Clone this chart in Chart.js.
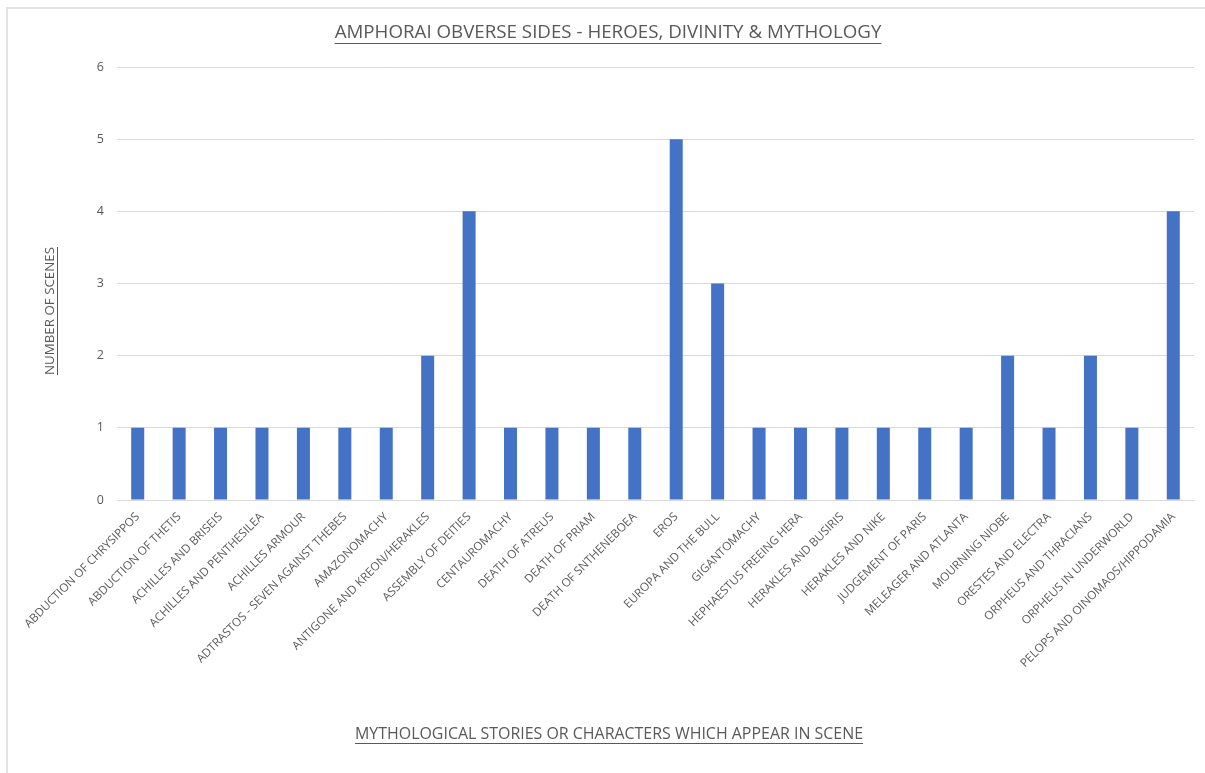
<!DOCTYPE html>
<html>
<head>
<meta charset="utf-8">
<script src="https://cdn.jsdelivr.net/npm/chart.js@4/dist/chart.umd.min.js"></script>
<style>
  html, body { margin: 0; padding: 0; background: #fff; }
  #wrap { position: absolute; left: 0; top: 0; width: 1205px; height: 773px; }
</style>
</head>
<body>
<div id="wrap"><canvas id="c" width="1205" height="773"></canvas></div>
<script>
const chartTitle = "AMPHORAI OBVERSE SIDES - HEROES, DIVINITY & MYTHOLOGY";
const xAxisTitle = "MYTHOLOGICAL STORIES OR CHARACTERS WHICH APPEAR IN SCENE";
const yAxisTitle = "NUMBER OF SCENES";

const categories = [
  "ABDUCTION OF CHRYSIPPOS",
  "ABDUCTION OF THETIS",
  "ACHILLES AND BRISEIS",
  "ACHILLES AND PENTHESILEA",
  "ACHILLES ARMOUR",
  "ADTRASTOS - SEVEN AGAINST THEBES",
  "AMAZONOMACHY",
  "ANTIGONE AND KREON/HERAKLES",
  "ASSEMBLY OF DEITIES",
  "CENTAUROMACHY",
  "DEATH OF ATREUS",
  "DEATH OF PRIAM",
  "DEATH OF SNTHENEBOEA",
  "EROS",
  "EUROPA AND THE BULL",
  "GIGANTOMACHY",
  "HEPHAESTUS FREEING HERA",
  "HERAKLES AND BUSIRIS",
  "HERAKLES AND NIKE",
  "JUDGEMENT OF PARIS",
  "MELEAGER AND ATLANTA",
  "MOURNING NIOBE",
  "ORESTES AND ELECTRA",
  "ORPHEUS AND THRACIANS",
  "ORPHEUS IN UNDERWORLD",
  "PELOPS AND OINOMAOS/HIPPODAMIA"
];
const sceneCounts = [1, 1, 1, 1, 1, 1, 1, 2, 4, 1, 1, 1, 1, 5, 3, 1, 1, 1, 1, 1, 1, 2, 1, 2, 1, 4];
const yTickValues = [0, 1, 2, 3, 4, 5, 6];

const FONT = "'Open Sans', 'Liberation Sans', sans-serif";
const TEXT_COLOR = "#595959";

function drawFitted(ctx, text, x, y, targetWidth, rotate) {
  ctx.save();
  ctx.font = "16px " + FONT;
  const w = ctx.measureText(text).width;
  const size = 16 * targetWidth / w;
  ctx.font = size.toFixed(2) + "px " + FONT;
  ctx.fillStyle = TEXT_COLOR;
  ctx.strokeStyle = TEXT_COLOR;
  ctx.textAlign = "center";
  ctx.textBaseline = "middle";
  ctx.translate(x, y);
  if (rotate) ctx.rotate(-Math.PI / 2);
  ctx.fillText(text, 0, 0);
  const tw = ctx.measureText(text).width;
  ctx.lineWidth = 1;
  ctx.beginPath();
  const uy = Math.round(size * 0.55) + 0.5;
  ctx.moveTo(-tw / 2, uy);
  ctx.lineTo(tw / 2, uy);
  ctx.stroke();
  ctx.restore();
}

const decorPlugin = {
  id: "decor",
  beforeDraw(chart) {
    const ctx = chart.ctx;
    ctx.save();
    ctx.fillStyle = "#ffffff";
    ctx.fillRect(0, 0, chart.width, chart.height);
    ctx.strokeStyle = "#e3e3e3";
    ctx.lineWidth = 2;
    ctx.beginPath();
    ctx.moveTo(7, chart.height);
    ctx.lineTo(7, 8);
    ctx.lineTo(chart.width, 8);
    ctx.stroke();
    ctx.restore();
  },
  afterDraw(chart) {
    const ctx = chart.ctx;
    drawFitted(ctx, chartTitle, 608, 33, 547, false);
    drawFitted(ctx, xAxisTitle, 609, 734, 508, false);
    drawFitted(ctx, yAxisTitle, 50, 311, 128, true);
  }
};

new Chart(document.getElementById("c"), {
  type: "bar",
  data: {
    labels: categories,
    datasets: [{
      label: "Scenes",
      data: sceneCounts,
      backgroundColor: "#4472C4",
      borderWidth: 0,
      categoryPercentage: 1.0,
      barPercentage: 0.314
    }]
  },
  options: {
    responsive: false,
    animation: false,
    devicePixelRatio: 1,
    layout: { padding: { top: 67, left: 0, right: 11, bottom: 0 } },
    plugins: {
      legend: { display: false },
      title: { display: false },
      tooltip: { enabled: false }
    },
    scales: {
      x: {
        grid: { display: false, drawTicks: false },
        border: { display: true, color: "#d9d9d9", width: 1 },
        ticks: {
          color: TEXT_COLOR,
          font: { family: FONT, size: 11.7 },
          minRotation: 45,
          maxRotation: 45,
          autoSkip: false,
          padding: 10
        },
        afterFit(scale) { scale.height = 773 - 500; }
      },
      y: {
        min: 0,
        max: 6,
        afterBuildTicks(scale) { scale.ticks = yTickValues.map(v => ({ value: v })); },
        grid: { color: "#d9d9d9", drawTicks: false },
        border: { display: false },
        ticks: {
          color: TEXT_COLOR,
          font: { family: FONT, size: 12.5 },
          padding: 13
        },
        afterFit(scale) { scale.width = 117; }
      }
    }
  },
  plugins: [decorPlugin]
});
</script>
</body>
</html>
